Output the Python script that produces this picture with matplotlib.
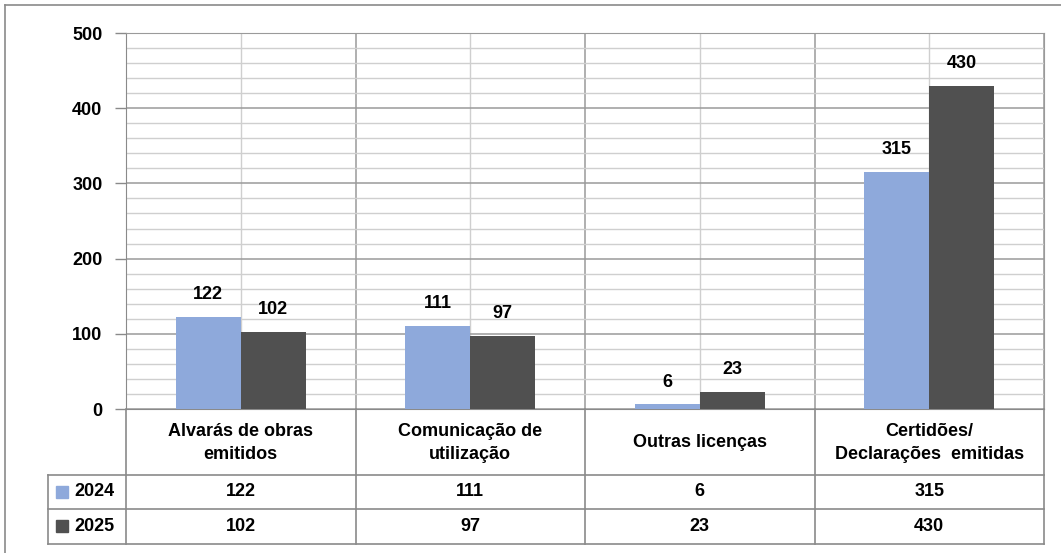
import numpy as np
import matplotlib.pyplot as plt
from matplotlib.lines import Line2D
from matplotlib.patches import Rectangle

plt.rcParams['font.family'] = ['Liberation Sans', 'DejaVu Sans']
plt.rcParams['font.weight'] = 'bold'

# data
categories = ['Alvarás de obras\nemitidos', 'Comunicação de\nutilização',
              'Outras licenças', 'Certidões/\nDeclarações  emitidas']
years = ['2024', '2025']
vals_2024 = [122, 111, 6, 315]
vals_2025 = [102, 97, 23, 430]
colors = ['#8EA9DB', '#505050']

W, H = 1061, 553
fig = plt.figure(figsize=(W / 100, H / 100), dpi=100)
fs = 13

# pixel helpers for layout
def fx(px):
    return px / W

def fy(py):
    return 1 - py / H

left, right = 126, 1044
top, zero = 33, 409
tbl_bottom = 544

ax = fig.add_axes([fx(left), fy(zero), fx(right) - fx(left), fy(top) - fy(zero)])
x = np.arange(len(categories)) + 0.5
bw = 0.283
ax.bar(x - bw / 2, vals_2024, bw, color=colors[0], zorder=3)
ax.bar(x + bw / 2, vals_2025, bw, color=colors[1], zorder=3)

for xi, v in zip(x - bw / 2, vals_2024):
    ax.annotate(str(v), (xi, v), xytext=(0, 10), textcoords='offset points',
                ha='center', va='bottom', fontsize=fs, fontweight='bold')
for xi, v in zip(x + bw / 2, vals_2025):
    ax.annotate(str(v), (xi, v), xytext=(0, 10), textcoords='offset points',
                ha='center', va='bottom', fontsize=fs, fontweight='bold')

ax.set_xlim(0, 4)
ax.set_ylim(0, 500)
ax.set_yticks(range(0, 501, 100))
ax.set_yticks(range(0, 501, 20), minor=True)
ax.set_xticks([0, 1, 2, 3, 4])
ax.set_xticks(x, minor=True)
ax.set_xticklabels([])
ax.grid(which='major', color='#9a9a9a', lw=1.1, zorder=0)
ax.grid(which='minor', color='#cfcfcf', lw=1.0, zorder=0)
ax.tick_params(axis='y', which='major', direction='out', length=8, width=1,
               color='#8a8a8a', labelsize=fs, pad=9)
ax.tick_params(axis='y', which='minor', length=0)
ax.tick_params(axis='x', which='both', length=0)
for lab in ax.get_yticklabels():
    lab.set_fontweight('bold')
for s in ['top', 'right']:
    ax.spines[s].set_color('#9a9a9a')
for s in ['left', 'bottom']:
    ax.spines[s].set_color('#8a8a8a')

# data table below the plot
tax = fig.add_axes([fx(left), fy(tbl_bottom), fx(right) - fx(left), fy(zero) - fy(tbl_bottom)])
tax.set_xlim(0, 4)
tax.set_ylim(tbl_bottom, zero)
tax.axis('off')
unit = (right - left) / 4
x_hdr = -(left - 48) / unit
row_y = [zero, 475, 509, tbl_bottom]
lc = '#8a8a8a'
for yy in row_y[1:]:
    tax.add_line(Line2D([x_hdr, 4], [yy, yy], color=lc, lw=1.2, clip_on=False))
tax.add_line(Line2D([x_hdr, x_hdr], [row_y[1], row_y[3]], color=lc, lw=1.2, clip_on=False))
for xv in range(5):
    tax.add_line(Line2D([xv, xv], [zero, tbl_bottom], color=lc, lw=1.2, clip_on=False))

for xi, c in zip(x, categories):
    tax.text(xi, (row_y[0] + row_y[1]) / 2 + 1, c, ha='center', va='center',
             fontsize=fs, fontweight='bold', linespacing=1.5)
for r, (yr, vals) in enumerate(zip(years, [vals_2024, vals_2025])):
    yc = (row_y[r + 1] + row_y[r + 2]) / 2
    for xi, v in zip(x, vals):
        tax.text(xi, yc, str(v), ha='center', va='center', fontsize=fs, fontweight='bold')
    sq = 12 / unit
    tax.add_patch(Rectangle((x_hdr + 8 / unit, yc + 6), sq, -12, color=colors[r], clip_on=False))
    tax.text(x_hdr + 26 / unit, yc, yr, ha='left', va='center', fontsize=fs, fontweight='bold')

# outer chart border (top and left only visible)
fig.add_artist(Line2D([fx(5), 1], [fy(5), fy(5)], color='#8a8a8a', lw=1.2))
fig.add_artist(Line2D([fx(5), fx(5)], [fy(5), 0], color='#8a8a8a', lw=1.2))

fig.savefig('out.png', dpi=100)
